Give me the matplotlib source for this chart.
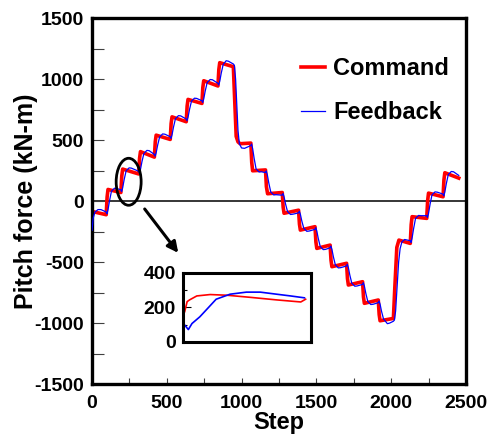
import numpy as np
import matplotlib
matplotlib.use('Agg')
import matplotlib.pyplot as plt
from matplotlib.patches import Ellipse
from matplotlib.ticker import MultipleLocator

plt.rcParams['font.family'] = ['Liberation Sans', 'DejaVu Sans']
plt.rcParams['font.weight'] = 'bold'
plt.rcParams['axes.unicode_minus'] = False

# Command (red) polyline vertices
cmd_step = [0, 95, 101, 107, 193, 199, 205, 312, 318, 324, 417, 423, 429, 523, 529, 535,
            630, 636, 642, 735, 741, 747, 842, 848, 854, 945, 955, 964, 976, 990, 1062,
            1068, 1074, 1160, 1166, 1174, 1272, 1278, 1284, 1381, 1387, 1393, 1491, 1497,
            1503, 1592, 1598, 1604, 1702, 1708, 1714, 1809, 1815, 1821, 1914, 1920, 1926,
            2015, 2025, 2038, 2052, 2128, 2134, 2140, 2238, 2244, 2250, 2347, 2353, 2359,
            2452]
cmd_force = [-85, -112, 33, 95, 70, 204, 262, 222, 350, 405, 360, 486, 540, 505, 635, 690,
             650, 778, 833, 800, 930, 986, 943, 1077, 1134, 1101, 800, 530, 485, 470, 475,
             316, 248, 255, 118, 60, 70, -49, -100, -75, -189, -238, -210, -335,
             -388, -361, -485, -538, -510, -635, -688, -661, -785, -838, -811, -930, -981,
             -962, -700, -380, -320, -347, -194, -128, -142, 3, 65, 35, 173, 232,
             188]

# Feedback (blue) polyline vertices
fb_step = [0, 8, 20, 40, 60, 95,
           100, 107, 117, 130, 150, 165, 193,
           198, 205, 215, 228, 248, 263, 312,
           317, 324, 334, 347, 367, 382, 417,
           422, 429, 439, 452, 472, 487, 523,
           528, 535, 545, 558, 578, 593, 630,
           635, 642, 652, 665, 685, 700, 735,
           740, 747, 757, 770, 790, 805, 842,
           847, 854, 864, 877, 897, 912, 945,
           952, 960, 968, 976, 985, 1000, 1020, 1062,
           1067, 1074, 1084, 1097, 1117, 1132, 1160,
           1165, 1172, 1182, 1195, 1215, 1230, 1272,
           1277, 1284, 1294, 1307, 1327, 1342, 1381,
           1386, 1393, 1403, 1416, 1436, 1451, 1491,
           1496, 1503, 1513, 1526, 1546, 1561, 1592,
           1597, 1604, 1614, 1627, 1647, 1662, 1702,
           1707, 1714, 1724, 1737, 1757, 1772, 1809,
           1814, 1821, 1831, 1844, 1864, 1879, 1914,
           1919, 1926, 1936, 1949, 1975, 1990, 2015,
           2022, 2030, 2040, 2050, 2060, 2072, 2090, 2128,
           2133, 2140, 2150, 2163, 2183, 2198, 2238,
           2243, 2250, 2260, 2273, 2293, 2308, 2347,
           2352, 2359, 2369, 2382, 2402, 2417, 2452]
fb_force = [-240, -140, -90, -70, -70, -90,
            -104, -71, 2, 80, 105, 103, 92,
            78, 108, 176, 247, 272, 270, 244,
            230, 259, 323, 390, 415, 413, 382,
            368, 396, 459, 525, 550, 548, 527,
            513, 542, 607, 675, 700, 698, 672,
            658, 687, 751, 818, 843, 841, 822,
            808, 837, 902, 971, 996, 994, 965,
            951, 981, 1048, 1119, 1150, 1146, 1123,
            1112, 1000, 780, 580, 470, 435, 432, 455,
            467, 430, 350, 263, 238, 240, 233,
            247, 216, 148, 75, 50, 52, 48,
            62, 36, -24, -85, -110, -108, -97,
            -83, -108, -165, -223, -248, -246, -232,
            -218, -246, -308, -373, -398, -396, -383,
            -369, -396, -458, -523, -548, -546, -532,
            -518, -546, -608, -673, -698, -696, -683,
            -669, -696, -758, -823, -848, -846, -833,
            -819, -845, -905, -966, -1005, -1000, -985,
            -975, -900, -700, -500, -390, -335, -315, -325,
            -339, -303, -227, -143, -118, -120, -120,
            -134, -101, -28, 50, 75, 73, 57,
            43, 74, 143, 217, 242, 240, 210]

# Inset: close-up of one step (relative time, force)
inset_cmd_t = [0.0, 0.02, 0.04, 0.10, 0.21, 0.35, 0.54, 0.76, 0.96, 1.0]
inset_cmd_f = [176, 234, 244, 267, 275, 271, 259, 244, 232, 248]
inset_fb_t = [0.0, 0.03, 0.06, 0.125, 0.19, 0.26, 0.375, 0.51, 0.625, 0.76, 0.875, 0.99]
inset_fb_f = [98, 72, 107, 146, 195, 248, 277, 289, 289, 277, 267, 256]

fig = plt.figure(figsize=(4.92, 4.34), dpi=100)
ax = fig.add_axes([0.187, 0.115, 0.760, 0.8435])

ax.axhline(0, color='black', linewidth=1.1, zorder=1)
ax.plot(cmd_step, cmd_force, color='#ff0000', linewidth=2.6, label='Command', zorder=2)
ax.plot(fb_step, fb_force, color='#0000ff', linewidth=0.9, label='Feedback', zorder=3)

ax.set_xlim(0, 2500)
ax.set_ylim(-1500, 1500)
ax.xaxis.set_major_locator(MultipleLocator(500))
ax.xaxis.set_minor_locator(MultipleLocator(250))
ax.yaxis.set_major_locator(MultipleLocator(500))
ax.yaxis.set_minor_locator(MultipleLocator(250))
ax.tick_params(axis='x', which='both', direction='in', length=4.5, width=0.8,
               color='#404040', labelsize=14, pad=8)
ax.tick_params(axis='y', which='both', direction='in', length=8.5, width=0.8,
               color='#404040', labelsize=14, pad=6)
for sp in ax.spines.values():
    sp.set_linewidth(2.4)

ax.set_xlabel('Step', fontsize=17, fontweight='bold', labelpad=-1)
ax.set_ylabel('Pitch force (kN-m)', fontsize=18, fontweight='bold', labelpad=-3)

ax.legend(loc='upper right', bbox_to_anchor=(0.955, 0.893), frameon=False,
          fontsize=17, handlelength=1.0, handletextpad=0.35, labelspacing=0.9,
          borderpad=0, borderaxespad=0)

# circle and arrow pointing at the inset
ax.add_patch(Ellipse((245, 158), 167, 385, fill=False, edgecolor='black', linewidth=2.0, zorder=4))
ax.annotate('', xy=(588, -443), xytext=(341, -47),
            arrowprops=dict(arrowstyle='-|>', color='black', lw=2.2, mutation_scale=16))

# inset
axi = fig.add_axes([0.372, 0.212, 0.260, 0.159])
axi.plot(inset_cmd_t, inset_cmd_f, color='#ff0000', linewidth=1.2)
axi.plot(inset_fb_t, inset_fb_f, color='#0000ff', linewidth=1.2)
axi.set_xlim(-0.014, 1.044)
axi.set_ylim(0, 400)
axi.set_xticks([])
axi.yaxis.set_major_locator(MultipleLocator(200))
axi.yaxis.set_minor_locator(MultipleLocator(100))
axi.tick_params(axis='y', which='major', direction='in', length=6, width=0.8, labelsize=14, pad=5)
axi.tick_params(axis='y', which='minor', direction='in', length=3, width=0.8)
for sp in axi.spines.values():
    sp.set_linewidth(2.2)

fig.savefig('out.png', dpi=100)
